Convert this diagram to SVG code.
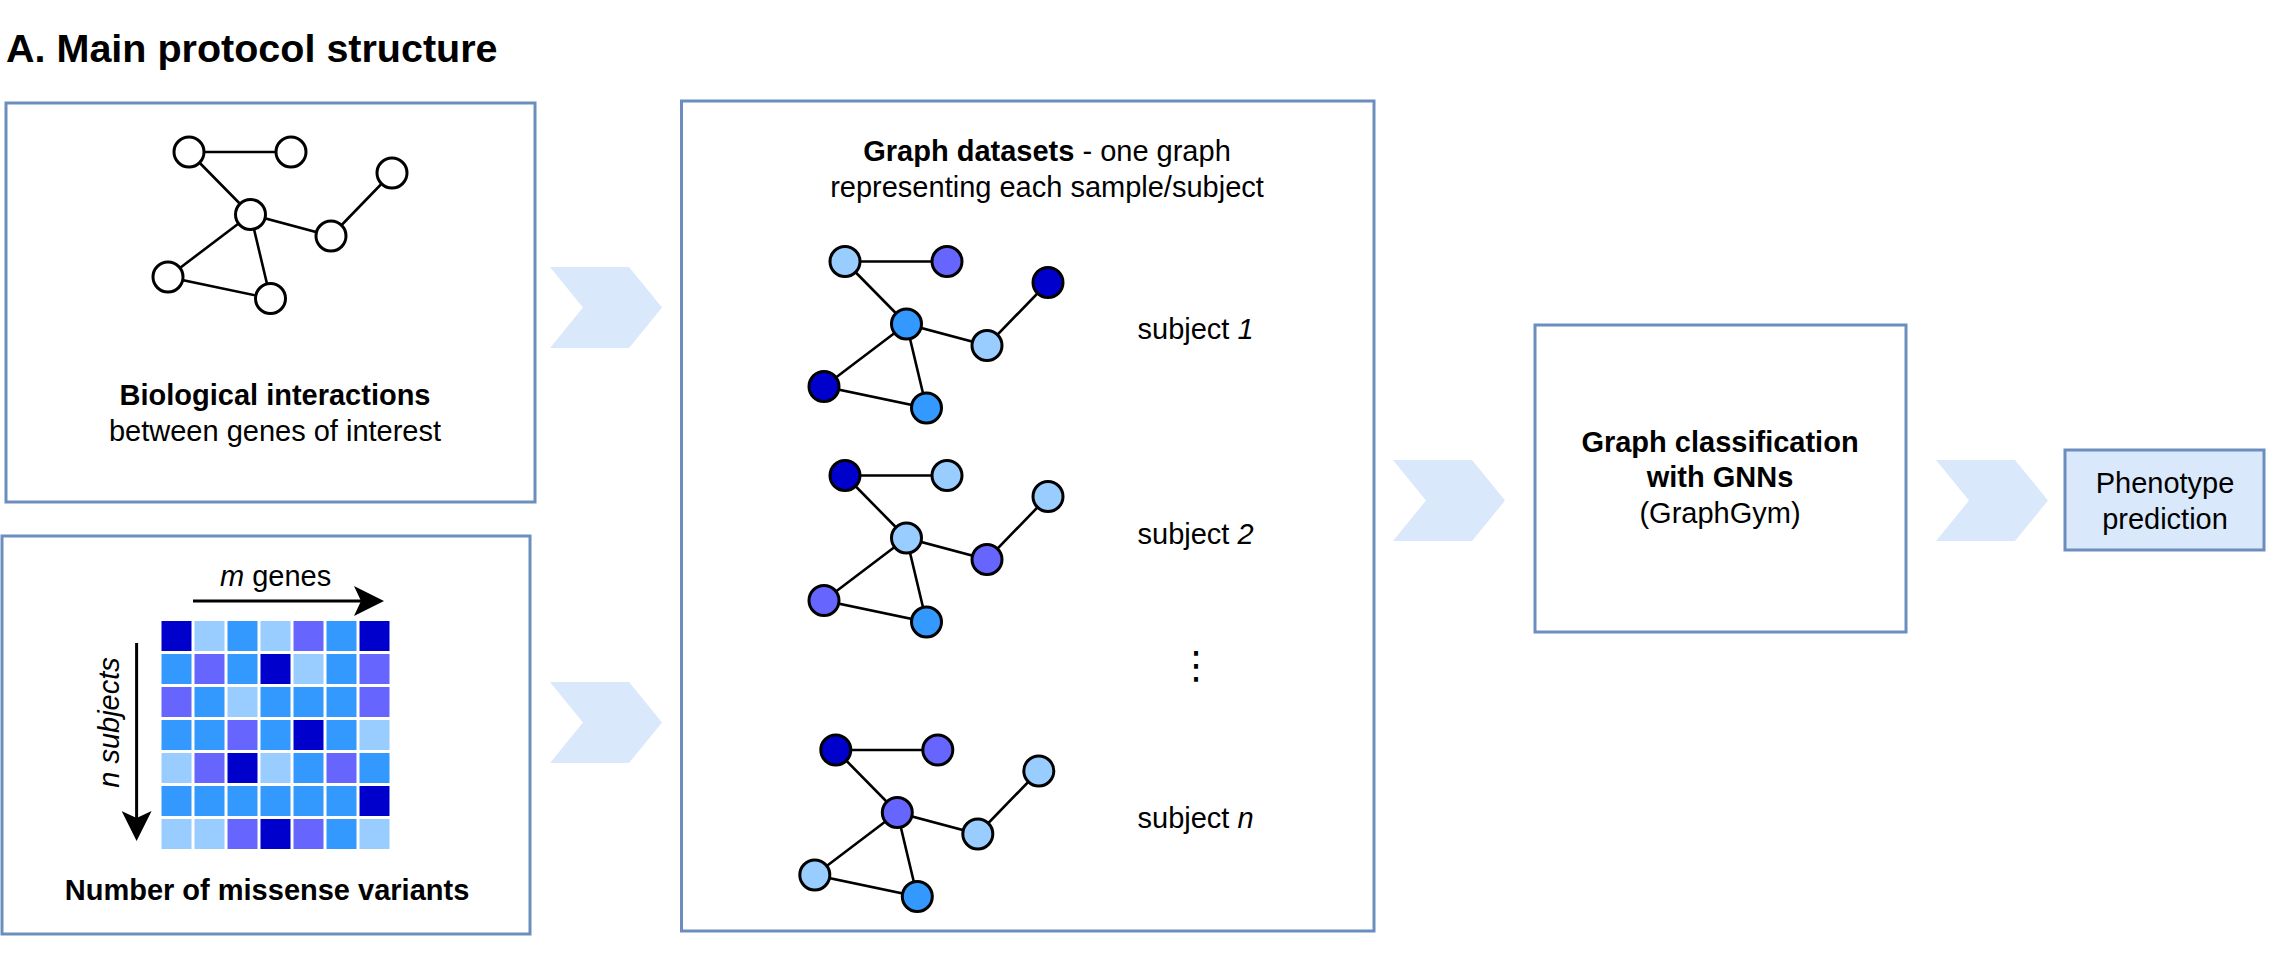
<svg xmlns="http://www.w3.org/2000/svg" xmlns:xlink="http://www.w3.org/1999/xlink" width="2271" height="967" viewBox="0 0 2271 967">
<style>
text{font-family:"Liberation Sans",Arial,Helvetica,sans-serif;font-size:29px;fill:#000}
.b{font-weight:bold}
.i{font-style:italic}
.box{fill:#fff;stroke:#6c8ebf;stroke-width:3}
.pbox{fill:#dae8fc;stroke:#6c8ebf;stroke-width:3}
.chev{fill:#dae8fc;stroke:none}
.edge{fill:none;stroke:#000;stroke-width:2.6}
.nd{stroke:#000;stroke-width:3}
.wh{fill:#fff}.dk{fill:#0000CC}.lt{fill:#99CCFF}.md{fill:#3399FF}.pu{fill:#6666FF}
.cell{stroke:none}
.arr{fill:none;stroke:#000;stroke-width:3}
.vdots{font-family:"DejaVu Sans","Liberation Sans",sans-serif;font-size:38px}
</style>
<defs>
<polygon id="chevron" class="chev" points="0,0 79,0 112,40.5 79,81 0,81 33,40.5"/>
<path id="gedges" class="edge" d="M0,0 L102,0 M0,0 L61.5,62.5 L142,84 L203,21 M61.5,62.5 L-21,125 L81.5,146.5 Z"/>
<marker id="ah" markerUnits="userSpaceOnUse" markerWidth="30" markerHeight="30" refX="16" refY="15" orient="auto">
<path d="M0,0 L30,15 L0,30 L7,15 Z" fill="#000"/>
</marker>
</defs>

<text id="title" class="b" x="6" y="62" style="font-size:39.5px">A. Main protocol structure</text>

<g id="connectors">
<use xlink:href="#chevron" href="#chevron" transform="translate(550,267)"/>
<use xlink:href="#chevron" href="#chevron" transform="translate(550,682)"/>
<use xlink:href="#chevron" href="#chevron" transform="translate(1393,460)"/>
<use xlink:href="#chevron" href="#chevron" transform="translate(1936,460)"/>
</g>

<g id="bio-interactions">
<rect class="box" x="6" y="103" width="529" height="399"/>
<g transform="translate(189,152)">
<use xlink:href="#gedges" href="#gedges"/>
<circle class="nd wh" cx="0" cy="0" r="15"/>
<circle class="nd wh" cx="102" cy="0" r="15"/>
<circle class="nd wh" cx="203" cy="21" r="15"/>
<circle class="nd wh" cx="61.5" cy="62.5" r="15"/>
<circle class="nd wh" cx="142" cy="84" r="15"/>
<circle class="nd wh" cx="-21" cy="125" r="15"/>
<circle class="nd wh" cx="81.5" cy="146.5" r="15"/>
</g>
<text class="b" x="275" y="405" text-anchor="middle">Biological interactions</text>
<text x="275" y="441" text-anchor="middle">between genes of interest</text>
</g>

<g id="missense-variants">
<rect class="box" x="2" y="536" width="528" height="398"/>
<g id="matrix" transform="translate(161.5,621)">
<rect class="cell dk" x="0" y="0" width="30" height="30"/>
<rect class="cell lt" x="33" y="0" width="30" height="30"/>
<rect class="cell md" x="66" y="0" width="30" height="30"/>
<rect class="cell lt" x="99" y="0" width="30" height="30"/>
<rect class="cell pu" x="132" y="0" width="30" height="30"/>
<rect class="cell md" x="165" y="0" width="30" height="30"/>
<rect class="cell dk" x="198" y="0" width="30" height="30"/>

<rect class="cell md" x="0" y="33" width="30" height="30"/>
<rect class="cell pu" x="33" y="33" width="30" height="30"/>
<rect class="cell md" x="66" y="33" width="30" height="30"/>
<rect class="cell dk" x="99" y="33" width="30" height="30"/>
<rect class="cell lt" x="132" y="33" width="30" height="30"/>
<rect class="cell md" x="165" y="33" width="30" height="30"/>
<rect class="cell pu" x="198" y="33" width="30" height="30"/>

<rect class="cell pu" x="0" y="66" width="30" height="30"/>
<rect class="cell md" x="33" y="66" width="30" height="30"/>
<rect class="cell lt" x="66" y="66" width="30" height="30"/>
<rect class="cell md" x="99" y="66" width="30" height="30"/>
<rect class="cell md" x="132" y="66" width="30" height="30"/>
<rect class="cell md" x="165" y="66" width="30" height="30"/>
<rect class="cell pu" x="198" y="66" width="30" height="30"/>

<rect class="cell md" x="0" y="99" width="30" height="30"/>
<rect class="cell md" x="33" y="99" width="30" height="30"/>
<rect class="cell pu" x="66" y="99" width="30" height="30"/>
<rect class="cell md" x="99" y="99" width="30" height="30"/>
<rect class="cell dk" x="132" y="99" width="30" height="30"/>
<rect class="cell md" x="165" y="99" width="30" height="30"/>
<rect class="cell lt" x="198" y="99" width="30" height="30"/>

<rect class="cell lt" x="0" y="132" width="30" height="30"/>
<rect class="cell pu" x="33" y="132" width="30" height="30"/>
<rect class="cell dk" x="66" y="132" width="30" height="30"/>
<rect class="cell lt" x="99" y="132" width="30" height="30"/>
<rect class="cell md" x="132" y="132" width="30" height="30"/>
<rect class="cell pu" x="165" y="132" width="30" height="30"/>
<rect class="cell md" x="198" y="132" width="30" height="30"/>

<rect class="cell md" x="0" y="165" width="30" height="30"/>
<rect class="cell md" x="33" y="165" width="30" height="30"/>
<rect class="cell md" x="66" y="165" width="30" height="30"/>
<rect class="cell md" x="99" y="165" width="30" height="30"/>
<rect class="cell md" x="132" y="165" width="30" height="30"/>
<rect class="cell md" x="165" y="165" width="30" height="30"/>
<rect class="cell dk" x="198" y="165" width="30" height="30"/>

<rect class="cell lt" x="0" y="198" width="30" height="30"/>
<rect class="cell lt" x="33" y="198" width="30" height="30"/>
<rect class="cell pu" x="66" y="198" width="30" height="30"/>
<rect class="cell dk" x="99" y="198" width="30" height="30"/>
<rect class="cell pu" x="132" y="198" width="30" height="30"/>
<rect class="cell md" x="165" y="198" width="30" height="30"/>
<rect class="cell lt" x="198" y="198" width="30" height="30"/>
</g>
<line class="arr" x1="193" y1="601" x2="370" y2="601" marker-end="url(#ah)"/>
<line class="arr" x1="136.6" y1="643" x2="136.6" y2="827" marker-end="url(#ah)"/>
<text x="220" y="586"><tspan class="i">m</tspan> genes</text>
<text class="i" transform="translate(119,722.5) rotate(-90)" text-anchor="middle">n subjects</text>
<text class="b" x="267" y="900" text-anchor="middle">Number of missense variants</text>
</g>

<g id="graph-datasets">
<rect class="box" x="681.5" y="101" width="692.5" height="830"/>
<text x="1047" y="161" text-anchor="middle"><tspan class="b">Graph datasets</tspan> - one graph</text>
<text x="1047" y="197" text-anchor="middle">representing each sample/subject</text>

<g id="subject-1" transform="translate(845,261.5)">
<use xlink:href="#gedges" href="#gedges"/>
<circle class="nd lt" cx="0" cy="0" r="15"/>
<circle class="nd pu" cx="102" cy="0" r="15"/>
<circle class="nd dk" cx="203" cy="21" r="15"/>
<circle class="nd md" cx="61.5" cy="62.5" r="15"/>
<circle class="nd lt" cx="142" cy="84" r="15"/>
<circle class="nd dk" cx="-21" cy="125" r="15"/>
<circle class="nd md" cx="81.5" cy="146.5" r="15"/>
</g>
<text x="1137.5" y="339">subject <tspan class="i">1</tspan></text>

<g id="subject-2" transform="translate(845,475.5)">
<use xlink:href="#gedges" href="#gedges"/>
<circle class="nd dk" cx="0" cy="0" r="15"/>
<circle class="nd lt" cx="102" cy="0" r="15"/>
<circle class="nd lt" cx="203" cy="21" r="15"/>
<circle class="nd lt" cx="61.5" cy="62.5" r="15"/>
<circle class="nd pu" cx="142" cy="84" r="15"/>
<circle class="nd pu" cx="-21" cy="125" r="15"/>
<circle class="nd md" cx="81.5" cy="146.5" r="15"/>
</g>
<text x="1137.5" y="544">subject <tspan class="i">2</tspan></text>

<text class="vdots" x="1196" y="678" text-anchor="middle">⋮</text>

<g id="subject-n" transform="translate(835.8,750)">
<use xlink:href="#gedges" href="#gedges"/>
<circle class="nd dk" cx="0" cy="0" r="15"/>
<circle class="nd pu" cx="102" cy="0" r="15"/>
<circle class="nd lt" cx="203" cy="21" r="15"/>
<circle class="nd pu" cx="61.5" cy="62.5" r="15"/>
<circle class="nd lt" cx="142" cy="84" r="15"/>
<circle class="nd lt" cx="-21" cy="125" r="15"/>
<circle class="nd md" cx="81.5" cy="146.5" r="15"/>
</g>
<text x="1137.5" y="828">subject <tspan class="i">n</tspan></text>
</g>

<g id="gnn-classification">
<rect class="box" x="1535" y="325" width="371" height="307"/>
<text class="b" x="1720" y="452" text-anchor="middle">Graph classification</text>
<text class="b" x="1720" y="487" text-anchor="middle">with GNNs</text>
<text x="1720" y="523" text-anchor="middle">(GraphGym)</text>
</g>

<g id="phenotype-prediction">
<rect class="pbox" x="2065" y="450" width="199" height="100"/>
<text x="2165" y="493" text-anchor="middle">Phenotype</text>
<text x="2165" y="529" text-anchor="middle">prediction</text>
</g>
</svg>
